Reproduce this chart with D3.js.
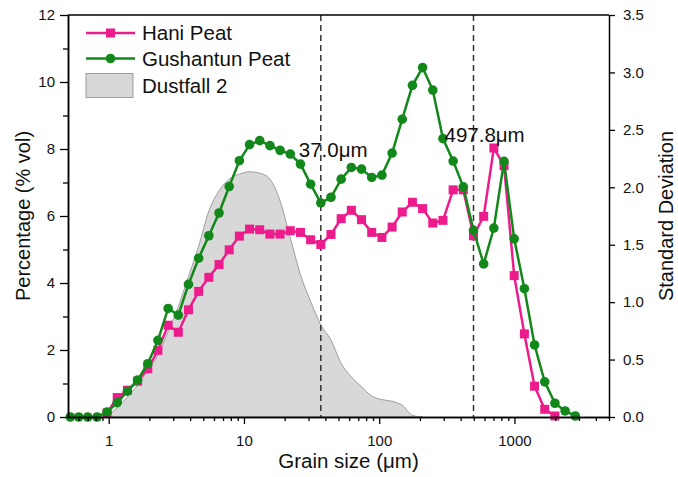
<!DOCTYPE html>
<html>
<head>
<meta charset="utf-8">
<script src="https://cdn.jsdelivr.net/npm/d3@7"></script>
<style>
  body { margin: 0; background: #fff; }
  text { font-family: "Liberation Sans", Arial, sans-serif; }
</style>
</head>
<body>
<div id="chart"></div>
<script>
// grain size classes (um)
var grainSize = [0.52, 0.60, 0.70, 0.82, 0.972, 1.156, 1.375, 1.635, 1.945, 2.312, 2.75, 3.27, 3.889, 4.625,
  5.5, 6.541, 7.778, 9.25, 11.0, 13.08, 15.56, 18.5, 22.0, 26.16, 31.11, 37.0, 44.0, 52.33, 62.23, 74.0,
  88.0, 104.7, 124.5, 148.0, 176.0, 209.3, 248.9, 296.0, 352.0, 418.6, 497.8, 592.0, 704.0, 837.2, 995.6,
  1184, 1408, 1674, 1991, 2368, 2816];

// percentage (% vol)
var haniPeat = [null, null, null, null, 0.12, 0.58, 0.80, 1.07, 1.44, 1.99, 2.74, 2.53, 3.20, 3.75,
  4.17, 4.55, 4.99, 5.40, 5.61, 5.59, 5.46, 5.46, 5.56, 5.51, 5.29, 5.15, 5.45, 5.92, 6.17, 5.89,
  5.51, 5.36, 5.67, 6.12, 6.41, 6.22, 5.79, 5.87, 6.78, 6.78, 5.41, 5.99, 8.03, 7.50, 4.22,
  2.48, 0.92, 0.23, 0.03, null, null];

var gushantunPeat = [0, 0, 0, 0, 0.15, 0.43, 0.77, 1.10, 1.59, 2.29, 3.24, 3.04, 3.96, 4.74,
  5.41, 6.09, 6.88, 7.65, 8.13, 8.25, 8.10, 7.96, 7.85, 7.55, 6.95, 6.39, 6.56, 7.10, 7.45, 7.40,
  7.15, 7.22, 7.88, 8.89, 9.90, 10.43, 9.76, 8.31, 7.64, 6.87, 5.57, 4.57, 5.64, 7.63, 5.32,
  3.83, 2.15, 1.05, 0.41, 0.18, 0.03];

var dustfall2 = [null, null, null, null, 0, 0.28, 0.6, 0.95, 1.4, 1.85, 2.55, 3.3, 4.2, 5.1,
  6.15, 6.75, 7.1, 7.25, 7.32, 7.28, 7.1, 6.45, 5.35, 4.25, 3.45, 2.75, 2.3, 1.6, 1.2, 0.9,
  0.63, 0.52, 0.47, 0.35, 0.05, 0, null, null, null, null, null, null, null, null, null,
  null, null, null, null, null, null];

// dashed marker lines
var markerSizes = [37.0, 497.8];
var markerLabels = ["37.0\u03bcm", "497.8\u03bcm"];

// ticks
var xMajor = [1, 10, 100, 1000];
var xMinor = [0.6, 0.7, 0.8, 0.9, 2, 3, 4, 5, 6, 7, 8, 9, 20, 30, 40, 50, 60, 70, 80, 90,
  200, 300, 400, 500, 600, 700, 800, 900, 2000, 3000, 4000, 5000];
var yMajor = [0, 2, 4, 6, 8, 10, 12];
var yMinor = [1, 3, 5, 7, 9, 11];
var sdTicks = [0, 0.5, 1.0, 1.5, 2.0, 2.5, 3.0, 3.5];

var margin = { top: 15, right: 69, bottom: 60, left: 68 },
    width = 678 - margin.left - margin.right,
    height = 477 - margin.top - margin.bottom;

var pink = "#ec1c8c", green = "#13881a";

var x = d3.scaleLog().domain([0.5, 5000]).range([0, width]);
var y = d3.scaleLinear().domain([0, 12]).range([height, 0]);
var y2 = d3.scaleLinear().domain([0, 3.5]).range([height, 0]);

var svg = d3.select("#chart").append("svg")
    .attr("width", width + margin.left + margin.right)
    .attr("height", height + margin.top + margin.bottom)
  .append("g")
    .attr("transform", "translate(" + margin.left + "," + margin.top + ")");

function rows(values) {
  return grainSize.map(function (g, i) { return { g: g, v: values[i] }; });
}

// dustfall area
var area = d3.area()
    .defined(function (d) { return d.v != null; })
    .x(function (d) { return x(d.g); })
    .y0(y(0))
    .y1(function (d) { return y(d.v); })
    .curve(d3.curveMonotoneX);

svg.append("path").datum(rows(dustfall2))
    .attr("d", area)
    .attr("fill", "#d8d8d8")
    .attr("stroke", "#8a8a8a")
    .attr("stroke-width", 0.8);

// dashed lines
svg.selectAll(".mark").data(markerSizes).enter().append("line")
    .attr("x1", function (d) { return x(d); })
    .attr("x2", function (d) { return x(d); })
    .attr("y1", 0).attr("y2", height)
    .attr("stroke", "#333").attr("stroke-width", 1.5)
    .attr("stroke-dasharray", "6,4");

var line = d3.line()
    .defined(function (d) { return d.v != null; })
    .x(function (d) { return x(d.g); })
    .y(function (d) { return y(d.v); });

// Hani peat
var hani = rows(haniPeat).filter(function (d) { return d.v != null; });
svg.append("path").datum(hani).attr("d", line)
    .attr("fill", "none").attr("stroke", pink).attr("stroke-width", 2.5);
svg.selectAll(".sq").data(hani).enter().append("rect")
    .attr("x", function (d) { return x(d.g) - 4.5; })
    .attr("y", function (d) { return y(d.v) - 4.5; })
    .attr("width", 9).attr("height", 9)
    .attr("fill", pink);

// Gushantun peat
var gush = rows(gushantunPeat);
svg.append("path").datum(gush).attr("d", line)
    .attr("fill", "none").attr("stroke", green).attr("stroke-width", 2.5);
svg.selectAll(".dot").data(gush).enter().append("circle")
    .attr("cx", function (d) { return x(d.g); })
    .attr("cy", function (d) { return y(d.v); })
    .attr("r", 4.8)
    .attr("fill", green);

// axes
function styleAxis(g, size) {
  g.select(".domain").attr("stroke-width", 1.5);
  g.selectAll(".tick line").attr("stroke-width", 1.3);
  g.selectAll("text").attr("font-family", "Liberation Sans, Arial, sans-serif")
    .attr("font-size", size).attr("fill", "#111");
}

svg.append("g").attr("transform", "translate(0," + height + ")")
    .call(d3.axisBottom(x).tickValues(xMinor).tickSize(4).tickFormat("").tickSizeOuter(0))
    .call(styleAxis, 15);
svg.append("g").attr("transform", "translate(0," + height + ")")
    .call(d3.axisBottom(x).tickValues(xMajor).tickSize(7).tickPadding(11)
      .tickFormat(function (d) { return String(d); }).tickSizeOuter(0))
    .call(styleAxis, 15);

svg.append("g")
    .call(d3.axisLeft(y).tickValues(yMinor).tickSize(5).tickFormat("").tickSizeOuter(0))
    .call(styleAxis, 15);
svg.append("g")
    .call(d3.axisLeft(y).tickValues(yMajor).tickSize(8).tickPadding(5).tickSizeOuter(0))
    .call(styleAxis, 15);

svg.append("g").attr("transform", "translate(" + width + ",0)")
    .call(d3.axisRight(y2).tickValues(sdTicks).tickSize(6).tickPadding(8)
      .tickFormat(d3.format(".1f")).tickSizeOuter(0))
    .call(styleAxis, 15);

// top frame
svg.append("line").attr("x1", 0).attr("x2", width).attr("y1", 0).attr("y2", 0)
    .attr("stroke", "#000").attr("stroke-width", 1.5);

// axis titles
svg.append("text")
    .attr("transform", "translate(" + (width / 2 + 10) + "," + (height + 51) + ")")
    .style("text-anchor", "middle").style("font-size", "20.5px").attr("fill", "#111")
    .text("Grain size (\u03bcm)");
svg.append("text")
    .attr("transform", "translate(" + (30 - margin.left) + "," + (height / 2) + ") rotate(-90)")
    .style("text-anchor", "middle").style("font-size", "20px").attr("fill", "#111")
    .text("Percentage (% vol)");
svg.append("text")
    .attr("transform", "translate(" + (width + 64) + "," + (height / 2) + ") rotate(-90)")
    .style("text-anchor", "middle").style("font-size", "20px").attr("fill", "#111")
    .text("Standard Deviation");

// marker labels
svg.selectAll(".mlabel").data(markerSizes).enter().append("text")
    .attr("x", function (d, i) { return x(d) - (i ? 29 : 22); })
    .attr("y", function (d, i) { return i ? 127 : 142; })
    .style("font-size", "20.5px").attr("fill", "#111")
    .text(function (d, i) { return markerLabels[i]; });

// legend
var legend = svg.append("g").attr("transform", "translate(18,0)");
legend.append("line").attr("x1", 0).attr("x2", 49).attr("y1", 18).attr("y2", 18)
    .attr("stroke", pink).attr("stroke-width", 2.5);
legend.append("rect").attr("x", 20).attr("y", 13.5).attr("width", 9).attr("height", 9).attr("fill", pink);
legend.append("line").attr("x1", 0).attr("x2", 49).attr("y1", 43.5).attr("y2", 43.5)
    .attr("stroke", green).attr("stroke-width", 2.5);
legend.append("circle").attr("cx", 24.5).attr("cy", 43.5).attr("r", 4.8).attr("fill", green);
legend.append("rect").attr("x", 0).attr("y", 58.5).attr("width", 47).attr("height", 24)
    .attr("fill", "#d8d8d8").attr("stroke", "#8a8a8a").attr("stroke-width", 0.8);
legend.selectAll(".ltext").data(["Hani Peat", "Gushantun Peat", "Dustfall 2"]).enter().append("text")
    .attr("x", 56)
    .attr("y", function (d, i) { return 24.5 + i * 26.5; })
    .style("font-size", "20.5px").attr("fill", "#111")
    .text(function (d) { return d; });
</script>
</body>
</html>
